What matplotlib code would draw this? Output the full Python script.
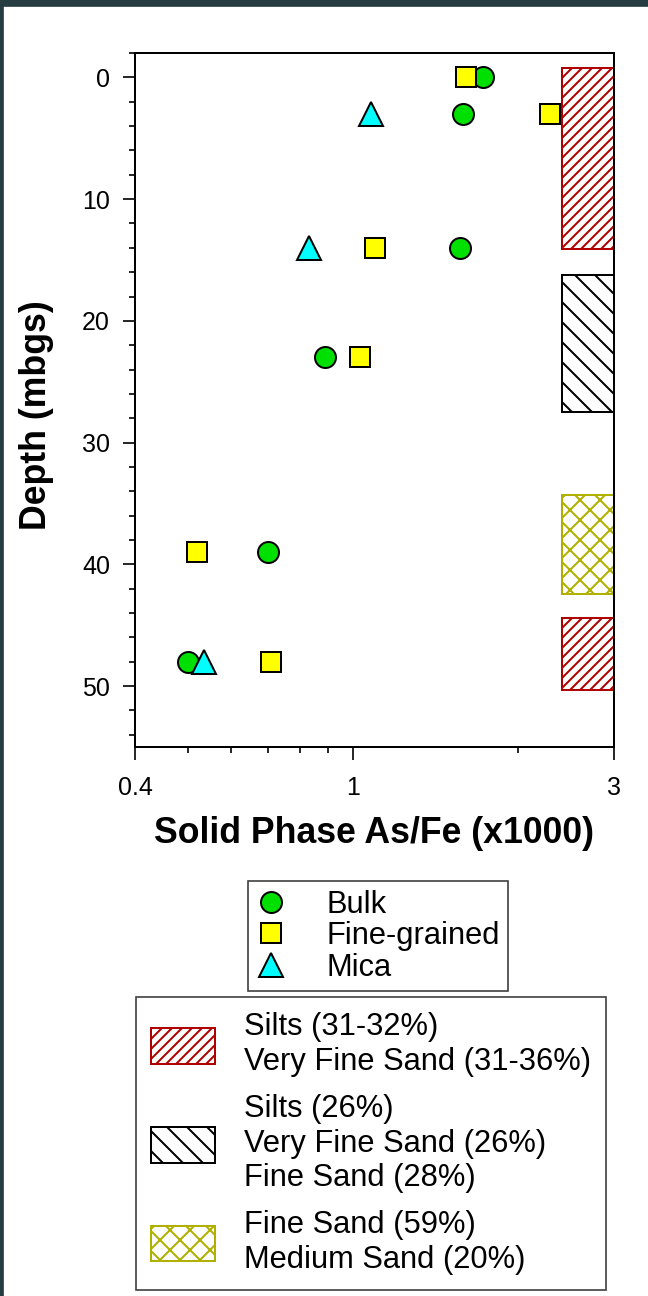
import numpy as np
import matplotlib
matplotlib.use('Agg')
import matplotlib.pyplot as plt
from matplotlib.patches import Patch, Rectangle
from matplotlib.lines import Line2D
from matplotlib.ticker import FixedLocator, NullFormatter, MultipleLocator

plt.rcParams['font.family'] = ['Liberation Sans', 'DejaVu Sans']
plt.rcParams['hatch.linewidth'] = 1.2

# solid phase As/Fe (x1000) vs depth (mbgs)
depth_bulk = [0, 3, 14, 23, 39, 48]
asfe_bulk = [1.73, 1.59, 1.57, 0.89, 0.70, 0.50]
depth_fine = [0, 3, 14, 23, 39, 48]
asfe_fine = [1.61, 2.29, 1.10, 1.03, 0.52, 0.71]
depth_mica = [3, 14, 48]
asfe_mica = [1.08, 0.83, 0.535]

# sediment layers (depth top, depth bottom, texture class)
layer_top = [-0.8, 16.2, 34.3, 44.4]
layer_bottom = [14.1, 27.5, 42.4, 50.3]
layer_class = [0, 1, 2, 0]
class_labels = ['Silts (31-32%)\nVery Fine Sand (31-36%)',
                'Silts (26%)\nVery Fine Sand (26%)\nFine Sand (28%)',
                'Fine Sand (59%)\nMedium Sand (20%)']
class_colors = ['#b00000', 'black', '#b0b000']
class_hatch = ['////', '\\\\', 'xx']
layer_x0, layer_x1 = 2.41, 3.0

fig = plt.figure(figsize=(5.4, 10.8), dpi=120)
fig.patch.set_facecolor('white')
# dark frame strips of the original slide
fig.patches.append(Rectangle((0, 1 - 6 / 1296), 1, 6 / 1296, transform=fig.transFigure,
                             color='#263c40', zorder=0))
fig.patches.append(Rectangle((0, 0), 3 / 648, 1, transform=fig.transFigure,
                             color='#263c40', zorder=0))

ax = fig.add_axes([135 / 648, 1 - 747 / 1296, 479 / 648, 694 / 1296])

for t, b, c in zip(layer_top, layer_bottom, layer_class):
    ax.barh((t + b) / 2, layer_x1 - layer_x0, left=layer_x0, height=b - t,
            facecolor='white', edgecolor=class_colors[c], hatch=class_hatch[c],
            linewidth=1.2, zorder=2)

ms = 12.6
ax.plot(asfe_bulk, depth_bulk, 'o', ms=ms, mfc='#00e000', mec='black', mew=1.2, zorder=3)
ax.plot(asfe_fine, depth_fine, 's', ms=12.4, mfc='#ffff00', mec='black', mew=1.2, zorder=3)
ax.plot(asfe_mica, depth_mica, '^', ms=14, mfc='#00ffff', mec='black', mew=1.2, zorder=3)

ax.set_xscale('log')
ax.set_xlim(0.4, 3)
ax.set_ylim(55, -2)
ax.xaxis.set_major_locator(FixedLocator([0.4, 1, 3]))
ax.xaxis.set_minor_locator(FixedLocator([0.5, 0.6, 0.7, 0.8, 0.9, 2]))
ax.xaxis.set_minor_formatter(NullFormatter())
ax.set_xticklabels(['0.4', '1', '3'])
ax.yaxis.set_major_locator(MultipleLocator(10))
ax.yaxis.set_minor_locator(MultipleLocator(2))

for s in ax.spines.values():
    s.set_linewidth(1.2)
ax.tick_params(which='major', length=7.5, width=1.0, labelsize=15, direction='out')
ax.tick_params(which='minor', length=3.8, width=1.0, direction='out')
ax.tick_params(axis='y', which='major', pad=7.5)
ax.tick_params(axis='x', which='major', pad=10)

ax.set_xlabel('Solid Phase As/Fe (x1000)', fontsize=21.4, fontweight='bold')
ax.set_ylabel('Depth (mbgs)', fontsize=21.4, fontweight='bold')
ax.xaxis.set_label_coords(0.5, -0.124)
ax.xaxis.label.set_verticalalignment('center')
ax.yaxis.set_label_coords(-0.2046, 0.478)
ax.yaxis.label.set_verticalalignment('center')

# legend for sample types
h1 = [Line2D([], [], ls='none', marker='o', ms=ms, mfc='#00e000', mec='black', mew=1.2),
      Line2D([], [], ls='none', marker='s', ms=12.4, mfc='#ffff00', mec='black', mew=1.2),
      Line2D([], [], ls='none', marker='^', ms=14, mfc='#00ffff', mec='black', mew=1.2)]
leg1 = fig.legend(h1, ['Bulk', 'Fine-grained', 'Mica'], loc='upper left',
                  bbox_to_anchor=(248 / 648, 1 - 881 / 1296), borderaxespad=0,
                  fontsize=18.5, frameon=True, fancybox=False, edgecolor='#404040',
                  framealpha=1, borderpad=0.28, handlelength=0.9, handletextpad=1.35,
                  labelspacing=0.05)
leg1.get_frame().set_linewidth(1.0)

# legend for sediment texture
h2 = [Patch(facecolor='white', edgecolor=class_colors[i], hatch=class_hatch[i], linewidth=1.2)
      for i in range(3)]
leg2 = fig.legend(h2, class_labels, loc='upper left',
                  bbox_to_anchor=(136 / 648, 1 - 997 / 1296), borderaxespad=0,
                  fontsize=18.5, frameon=True, fancybox=False, edgecolor='#404040',
                  framealpha=1, borderpad=0.5, handlelength=2.05, handleheight=1.4,
                  handletextpad=0.95, labelspacing=0.55)
leg2.get_frame().set_linewidth(1.0)

fig.savefig('out.png', dpi=120)
